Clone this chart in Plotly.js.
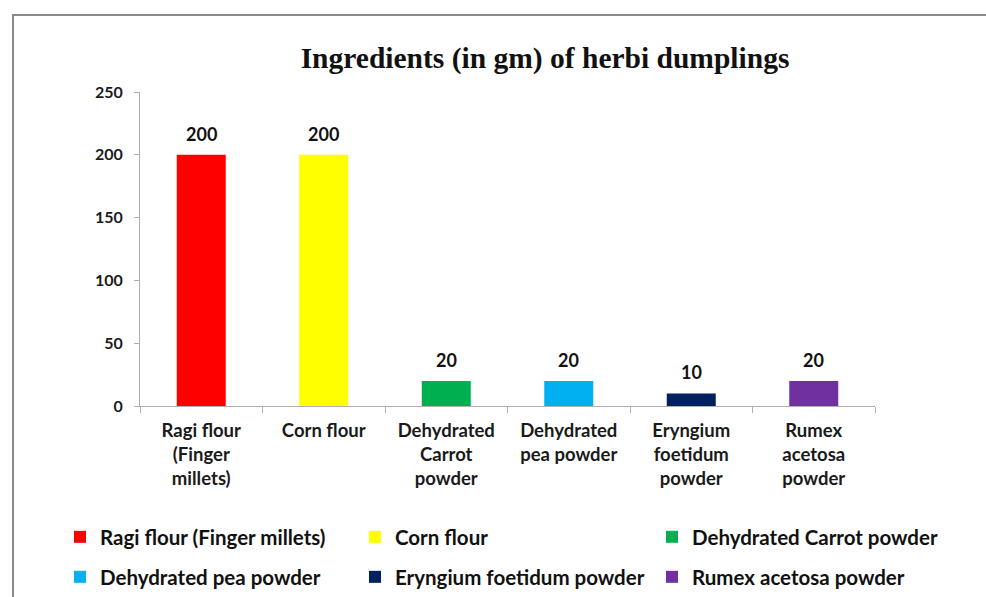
<!DOCTYPE html>
<html>
<head>
<meta charset="utf-8">
<script src="https://cdn.plot.ly/plotly-3.0.1.min.js"></script>
<style>
  html, body { margin: 0; padding: 0; background: #ffffff; }
  #frame { position: absolute; left: 12px; top: 14px; width: 990px; height: 600px;
           border-left: 2px solid #8a8a8a; border-top: 2px solid #8a8a8a; z-index: 0; }
  #chart { position: absolute; left: 0; top: 0; width: 986px; height: 597px; z-index: 1; }
</style>
</head>
<body>
<div id="frame"></div>
<div id="chart"></div>
<script>
// ---- data ----
const categories = [
  "Ragi flour (Finger millets)",
  "Corn flour",
  "Dehydrated Carrot powder",
  "Dehydrated pea powder",
  "Eryngium foetidum powder",
  "Rumex acetosa powder"
];
const tickLabels = [
  "Ragi flour<br>(Finger<br>millets)",
  "Corn flour",
  "Dehydrated<br>Carrot<br>powder",
  "Dehydrated<br>pea powder",
  "Eryngium<br>foetidum<br>powder",
  "Rumex<br>acetosa<br>powder"
];
const amounts = [200, 200, 20, 20, 10, 20];
const colors = ["#ff0000", "#ffff00", "#00b050", "#00b0f0", "#002060", "#7030a0"];
const yTicks = [0, 50, 100, 150, 200, 250];

const FONT = "Lato, 'Open Sans', sans-serif";

// ---- layout geometry ----
const W = 986, H = 597;
const M = { l: 140, r: 111, t: 92, b: 191 };

// legend slots: text-left pixel x and row centre pixel y
const legendCols = [100, 395, 692];
const legendRows = [537, 577];

const traces = categories.map((c, i) => ({
  type: "bar",
  name: "<b>" + c + "</b>",
  x: [c],
  y: [amounts[i]],
  width: 0.4,
  marker: { color: colors[i], line: { width: 0 } },
  legend: i === 0 ? "legend" : "legend" + (i + 1),
  hoverinfo: "x+y"
}));

const layout = {
  width: W, height: H,
  margin: M,
  paper_bgcolor: "rgba(0,0,0,0)",
  plot_bgcolor: "rgba(0,0,0,0)",
  barmode: "overlay",
  font: { family: FONT, color: "#1a1a1a" },
  title: {
    text: "<b>Ingredients (in gm) of herbi dumplings</b>",
    font: { family: "'Liberation Serif', 'Times New Roman', serif", size: 29.5, color: "#111" },
    xref: "container", x: 545 / W, xanchor: "center",
    yref: "container", y: 1 - 58 / H, yanchor: "middle"
  },
  xaxis: {
    type: "category",
    tickvals: categories,
    ticktext: tickLabels.map(t => "<b>" + t + "</b>"),
    tickfont: { family: FONT, size: 18.5, color: "#1a1a1a" },
    showline: true, linecolor: "#b0b0b0", linewidth: 1,
    ticks: "outside", tickson: "boundaries", ticklen: 6, tickcolor: "#b0b0b0",
    ticklabelstandoff: 8,
    showgrid: false, zeroline: false, fixedrange: true, automargin: false
  },
  yaxis: {
    range: [0, 250],
    tickvals: yTicks,
    ticktext: yTicks.map(v => "<b>" + v + "</b>"),
    tickfont: { family: FONT, size: 16, color: "#1a1a1a" },
    showline: true, linecolor: "#b0b0b0", linewidth: 1,
    ticks: "outside", ticklen: 5, tickcolor: "#b0b0b0",
    ticklabelstandoff: 8,
    showgrid: false, zeroline: false, fixedrange: true, automargin: false
  },
  annotations: categories.map((c, i) => ({
    x: c, y: amounts[i], xref: "x", yref: "y",
    text: "<b>" + amounts[i] + "</b>",
    showarrow: false, yanchor: "bottom", yshift: 8,
    font: { family: FONT, size: 18, color: "#111" }
  })),
  showlegend: true
};

categories.forEach((c, i) => {
  const key = i === 0 ? "legend" : "legend" + (i + 1);
  const col = i % 3, row = Math.floor(i / 3);
  layout[key] = {
    orientation: "h",
    xref: "container", yref: "container",
    x: (legendCols[col] - 32) / W, xanchor: "left",
    y: 1 - legendRows[row] / H, yanchor: "middle",
    indentation: -8,
    font: { family: FONT, size: 20.5, color: "#111" },
    bgcolor: "rgba(0,0,0,0)", borderwidth: 0
  };
});

Plotly.newPlot("chart", traces, layout, { displayModeBar: false, staticPlot: true });
</script>
</body>
</html>
